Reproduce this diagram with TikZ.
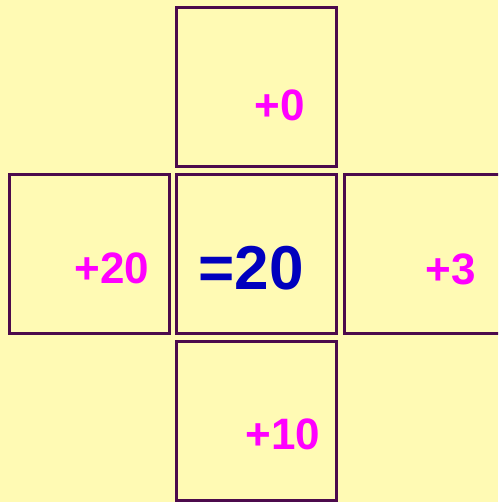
\documentclass[tikz,border=0pt]{standalone}
\usepackage{fontspec}
\setmainfont{Liberation Sans}
\definecolor{bg}{RGB}{255,250,180}
\definecolor{edge}{RGB}{76,10,76}
\definecolor{mag}{RGB}{255,0,255}
\definecolor{blu}{RGB}{0,0,190}
\tikzset{
  cell/.style={draw=edge, line width=2.8pt, fill=bg, rectangle, inner sep=0pt, minimum width=160pt, minimum height=159pt},
  lbl/.style={text=mag, font=\fontsize{44}{44}\selectfont\bfseries, anchor=base, inner sep=0pt},
  res/.style={text=blu, font=\fontsize{62}{62}\selectfont\bfseries, anchor=base, inner sep=0pt}
}
\begin{document}
\begin{tikzpicture}[x=1pt,y=-1pt]
\fill[bg] (0,0) rectangle (498,502);
\useasboundingbox (0,0) rectangle (498,502);
\begin{scope}
\clip (0,0) rectangle (498,502);
\node[cell] (top) at (256.5,87) {};
\node[cell] (left) at (89.5,254) {};
\node[cell] (center) at (256.5,254) {};
\node[cell] (right) at (424.5,254) {};
\node[cell] (bottom) at (256.5,421) {};
\end{scope}
\node[lbl] (t0) at (280,121) {+0};
\node[lbl] (t20) at (112,283) {+20};
\node[res] (teq) at (251,289) {=20};
\node[lbl] (t3) at (451,284) {+3};
\node[lbl] (t10) at (283,449) {+10};
\end{tikzpicture}
\end{document}
